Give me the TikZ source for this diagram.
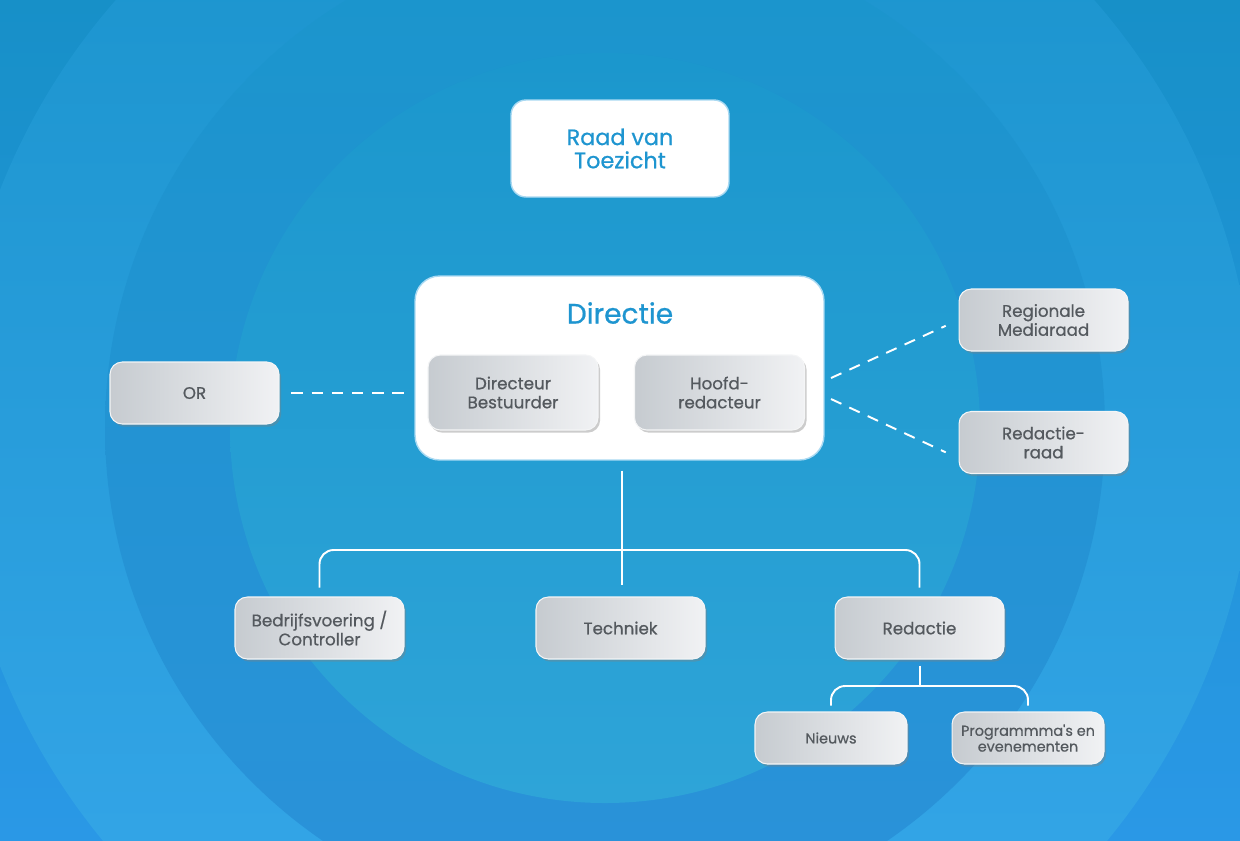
\documentclass[tikz,border=0pt]{standalone}
\usepackage{fontspec}
\setmainfont{Poppins}
\newfontfamily\medfont{Poppins}[FakeBold=0.7]
\usepackage{tikz}
\usetikzlibrary{shadows,calc}

\definecolor{bgtop}{HTML}{1790C8}
\definecolor{bgbot}{HTML}{2A98E6}
\definecolor{ringatop}{HTML}{1892CA}
\definecolor{ringamid}{HTML}{239CD8}
\definecolor{ringabot}{HTML}{38A8EC}
\definecolor{ringbtop}{HTML}{1A95CC}
\definecolor{ringbmid}{HTML}{279ED8}
\definecolor{ringbbot}{HTML}{2B92DA}
\definecolor{ringctop}{HTML}{1B97CD}
\definecolor{ringcmid}{HTML}{29A0D6}
\definecolor{ringcbot}{HTML}{2EA4D8}
\definecolor{titleblue}{HTML}{1E95D0}
\definecolor{boxtext}{HTML}{54595E}
\definecolor{boxdark}{HTML}{C6CBD0}
\definecolor{boxlight}{HTML}{F1F2F4}
\definecolor{rimblue}{HTML}{A9D9F2}

\tikzset{
  graybox/.style={rounded corners=7pt, left color=boxdark, right color=boxlight,
    draw=white!80!boxdark, line width=0.6pt, text=boxtext, align=center, inner sep=2pt,
    drop shadow={shadow xshift=1.2pt, shadow yshift=-1.5pt, opacity=0.4},
    font=\medfont\fontsize{9.5}{10.8}\selectfont},
  mainbox/.style={graybox, minimum width=3.38cm, minimum height=1.24cm},
  headbox/.style={graybox, minimum width=3.4cm, minimum height=1.5cm},
  smallbox/.style={graybox, minimum width=3.04cm, minimum height=1.04cm,
    font=\medfont\fontsize{8.2}{9}\selectfont},
  whitebox/.style={fill=white, draw=rimblue, line width=0.8pt, text=titleblue, align=center},
  tree/.style={draw=white, line width=1.1pt},
  link/.style={draw=white, line width=1.1pt, dash pattern=on 6.5pt off 5pt}
}

\begin{document}
\begin{tikzpicture}[x=0.02cm,y=-0.02cm]
    \useasboundingbox (0,0) rectangle (1240,840);
    \begin{scope}
        \clip (0,0) rectangle (1240,840);
        \shade[top color=bgtop, bottom color=bgbot] (0,0) rectangle (1240,840);
        \shade[top color=ringatop, middle color=ringamid, bottom color=ringabot] (605,428) circle (650);
        \shade[top color=ringbtop, middle color=ringbmid, bottom color=ringbbot] (605,428) circle (500);
        \shade[top color=ringctop, middle color=ringcmid, bottom color=ringcbot] (605,428) circle (375);
    \end{scope}

    \node[whitebox, rounded corners=8.5pt, minimum width=4.36cm, minimum height=1.94cm,
        font=\medfont\fontsize{12.7}{13.2}\selectfont] (raad) at (620,148.5) {Raad van\\Toezicht};
    \node[whitebox, rounded corners=14pt, minimum width=8.18cm, minimum height=3.68cm] (directie) at (619.5,368) {};
    \node[text=titleblue, font=\medfont\fontsize{16}{18}\selectfont] (dirtitle) at (620,313) {Directie};
    \node[headbox] (dirbest) at (513,392.5) {Directeur\\Bestuurder};
    \node[headbox] (hoofdred) at (719.5,392.5) {Hoofd-\\redacteur};

    \node[mainbox] (or) at (194.5,393) {OR};
    \node[mainbox] (regio) at (1043.5,320) {Regionale\\Mediaraad};
    \node[mainbox] (redraad) at (1043.5,442.5) {Redactie-\\raad};
    \node[mainbox] (bedrijf) at (319.5,628) {Bedrijfsvoering /\\Controller};
    \node[mainbox] (techniek) at (620.5,628) {Techniek};
    \node[mainbox] (redactie) at (919.5,628) {Redactie};
    \node[smallbox] (nieuws) at (831,738) {Nieuws};
    \node[smallbox] (programma) at (1028,738) {Programmma{\char"27}s en\\evenementen};

    \coordinate (bar) at (622,550);
    \coordinate (bar2) at (920,686);
    \coordinate (dirA) at (831,378);
    \coordinate (dirB) at (831,399);

    \draw[tree, shorten <=5.7pt, shorten >=6.5pt] (directie.south -| bar) -- (techniek.north -| bar);
    \draw[tree, rounded corners=8pt, shorten <=5pt, shorten >=5pt] (bedrijf.north) |- (bar) -| (redactie.north);
    \draw[tree, shorten <=3.4pt] (redactie.south -| bar2) -- (bar2);
    \draw[tree, rounded corners=8pt, shorten <=3.4pt, shorten >=3.4pt] (nieuws.north) |- (bar2) -| (programma.north);

    \draw[link, shorten <=6.8pt, shorten >=4pt] (or.east) -- (or.east -| directie.west);
    \draw[link, shorten >=8pt] (dirA) -- (regio.west);
    \draw[link, shorten >=8pt] (dirB) -- ($(redraad.west)!0.5!(redraad.south west)$);
\end{tikzpicture}
\end{document}
